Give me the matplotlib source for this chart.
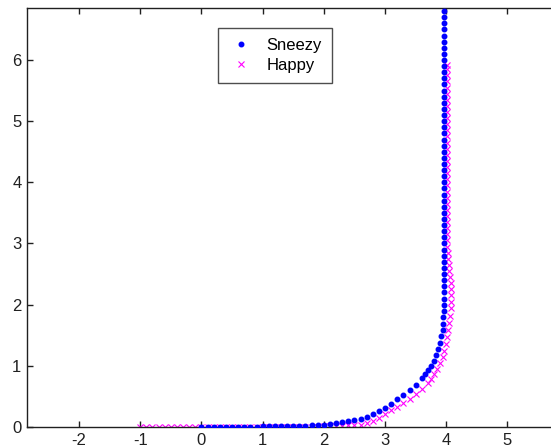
import matplotlib
matplotlib.use("Agg")
import matplotlib.pyplot as plt

# ---- data ----
sneezy_x = [0.00, 0.10, 0.20, 0.30, 0.40, 0.50, 0.60, 0.70, 0.80, 0.90,
            1.00, 1.10, 1.20, 1.30, 1.40, 1.50, 1.60, 1.70, 1.80, 1.90,
            2.00, 2.10, 2.20, 2.30, 2.40, 2.50, 2.60, 2.70, 2.80, 2.90,
            3.00, 3.10, 3.20, 3.30, 3.40, 3.50, 3.60, 3.65, 3.70, 3.75,
            3.80, 3.84, 3.87, 3.90, 3.92, 3.94, 3.95,
            3.95, 3.96, 3.96, 3.96, 3.97, 3.96, 3.96, 3.96, 3.96, 3.96,
            3.96, 3.96, 3.96, 3.96, 3.96, 3.96, 3.96, 3.96, 3.96, 3.96,
            3.96, 3.96, 3.96, 3.96, 3.96, 3.96, 3.96, 3.96, 3.96, 3.96,
            3.96, 3.96, 3.96, 3.96, 3.96, 3.96, 3.96, 3.96, 3.96, 3.96,
            3.96, 3.96, 3.96, 3.96, 3.96, 3.96, 3.96, 3.96, 3.96, 3.96,
            3.96]
sneezy_y = [0.00, 0.00, 0.00, 0.00, 0.00, 0.00, 0.00, 0.00, 0.00, 0.00,
            0.01, 0.01, 0.01, 0.01, 0.01, 0.02, 0.02, 0.02, 0.03, 0.03,
            0.04, 0.05, 0.06, 0.08, 0.10, 0.11, 0.13, 0.17, 0.21, 0.26,
            0.31, 0.38, 0.45, 0.52, 0.60, 0.68, 0.80, 0.86, 0.93, 1.00,
            1.08, 1.17, 1.28, 1.38, 1.48, 1.58, 1.68,
            1.80, 1.90, 2.00, 2.10, 2.20, 2.30, 2.40, 2.50, 2.60, 2.70,
            2.80, 2.90, 3.00, 3.10, 3.20, 3.30, 3.40, 3.50, 3.60, 3.70,
            3.80, 3.90, 4.00, 4.10, 4.20, 4.30, 4.40, 4.50, 4.60, 4.70,
            4.80, 4.90, 5.00, 5.10, 5.20, 5.30, 5.40, 5.50, 5.60, 5.70,
            5.80, 5.90, 6.00, 6.10, 6.20, 6.30, 6.40, 6.50, 6.60, 6.70,
            6.80]

happy_x = [-1.00, -0.90, -0.80, -0.70, -0.60, -0.50, -0.40, -0.30, -0.20, -0.10,
           0.00, 0.10, 0.20, 0.30, 0.40, 0.50, 0.60, 0.70, 0.80, 0.90,
           1.00, 1.10, 1.20, 1.30, 1.40, 1.50, 1.60, 1.70, 1.80, 1.90,
           2.00, 2.10, 2.20, 2.30, 2.40, 2.50, 2.60, 2.70, 2.80, 2.90,
           3.00, 3.10, 3.20, 3.30, 3.40, 3.50, 3.60, 3.70, 3.75, 3.80,
           3.85, 3.90, 3.94, 3.97, 3.99, 4.01, 4.03, 4.05, 4.06, 4.07,
           4.08, 4.08, 4.07, 4.07, 4.06, 4.05, 4.04, 4.03, 4.03, 4.02,
           4.02, 4.02, 4.02, 4.01, 4.01, 4.01, 4.01, 4.01, 4.01, 4.01,
           4.01, 4.01, 4.01, 4.01, 4.01, 4.01, 4.01, 4.01, 4.01, 4.01,
           4.01, 4.01, 4.01, 4.01, 4.01, 4.01, 4.01, 4.01, 4.01, 4.01]
happy_y = [0.00, 0.00, 0.00, 0.00, 0.00, 0.00, 0.00, 0.00, 0.00, 0.00,
           0.00, 0.00, 0.00, 0.00, 0.00, 0.00, 0.00, 0.00, 0.00, 0.00,
           0.00, 0.00, 0.00, 0.00, 0.00, 0.00, 0.00, 0.00, 0.00, 0.00,
           0.01, 0.01, 0.02, 0.02, 0.03, 0.04, 0.04, 0.06, 0.10, 0.15,
           0.21, 0.27, 0.33, 0.40, 0.46, 0.54, 0.62, 0.72, 0.78, 0.86,
           0.95, 1.04, 1.14, 1.25, 1.36, 1.47, 1.58, 1.70, 1.82, 1.94,
           2.05, 2.15, 2.25, 2.35, 2.45, 2.55, 2.65, 2.75, 2.85, 2.95,
           3.05, 3.15, 3.25, 3.35, 3.45, 3.55, 3.65, 3.75, 3.85, 3.95,
           4.05, 4.15, 4.25, 4.35, 4.45, 4.55, 4.65, 4.75, 4.85, 4.95,
           5.05, 5.15, 5.25, 5.35, 5.45, 5.55, 5.65, 5.75, 5.85, 5.92]

series_names = ["Sneezy", "Happy"]
x_ticks = [-2, -1, 0, 1, 2, 3, 4, 5]
y_ticks = [0, 1, 2, 3, 4, 5, 6]

# ---- figure ----
plt.rcParams['font.family'] = ['Liberation Sans', 'DejaVu Sans']
plt.rcParams['axes.unicode_minus'] = False
fig = plt.figure(figsize=(5.51, 4.48), dpi=100)
W, H = 551.0, 448.0
xmin, xmax = -2.85, 6.0
ymin, ymax = 0.0, 6.85
ppu = 61.2
left_px, top_px, bottom_px = 27.0, 8.0, 427.0
width_px = (xmax - xmin) * ppu
ax = fig.add_axes([left_px / W, 1 - bottom_px / H, width_px / W, (bottom_px - top_px) / H])

ax.plot(sneezy_x, sneezy_y, linestyle='none', marker='.', color='#0000ff',
        markersize=6.5, label=series_names[0], zorder=3)
ax.plot(happy_x, happy_y, linestyle='none', marker='x', color='#ff00ff',
        markersize=4, markeredgewidth=0.8, label=series_names[1], zorder=2)

ax.set_xlim(xmin, xmax)
ax.set_ylim(ymin, ymax)
ax.set_xticks(x_ticks)
ax.set_yticks(y_ticks)
ax.tick_params(direction='in', length=4, width=1, top=True, right=True,
               labelsize=12, colors='#202020', pad=4)
for s in ax.spines.values():
    s.set_linewidth(1.0)
    s.set_color('#202020')

leg = ax.legend(loc='upper left', bbox_to_anchor=((218 - left_px) / width_px,
                                                   (bottom_px - 28) / (bottom_px - top_px)),
                frameon=True, fancybox=False, edgecolor='#202020', fontsize=12,
                borderpad=0.6, handletextpad=0.7, handlelength=1.6,
                labelspacing=0.3, borderaxespad=0)
leg.get_frame().set_linewidth(1.0)

fig.savefig("out.png", dpi=100)
